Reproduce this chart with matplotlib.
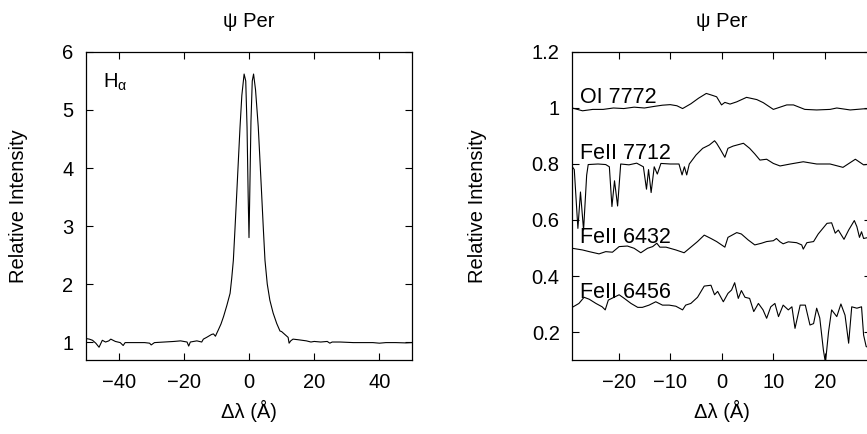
import matplotlib
matplotlib.use("Agg")
import matplotlib.pyplot as plt
import numpy as np

plt.rcParams['font.family'] = ['Liberation Sans', 'DejaVu Sans']
plt.rcParams['mathtext.fontset'] = 'custom'
plt.rcParams['mathtext.rm'] = 'Liberation Sans'
plt.rcParams['mathtext.it'] = 'Liberation Sans:italic'

# H-alpha profile (left panel)
ha_x = [-50, -49, -48, -47, -46, -45, -44, -43, -42.4, -41, -39.5, -38.6, -38, -35, -32,
        -30.5, -30, -29, -26, -23, -21, -19, -18.5, -18, -16, -14.5, -14, -13, -11.5,
        -10.9, -10.3, -9.9, -9.4, -8.6, -7.8, -6.8, -5.8, -5.3, -4.8, -4.3, -3.76, -3.2,
        -2.75, -2.2, -1.5, -1.0, -0.6, -0.25, 0.0, 0.25, 0.6, 1.0, 1.4, 2.0, 2.84, 3.3,
        3.87, 4.4, 4.9, 5.6, 6.4, 7.4, 8.5, 9.5, 10.0, 11.0, 12.0, 12.3, 12.8, 13.5, 15,
        17.6, 19, 20, 22, 24, 24.8, 25.5, 28, 32, 35, 38, 40, 42, 45, 48, 50]
ha_y = [1.06, 1.05, 1.03, 0.98, 0.91, 1.03, 1.0, 1.02, 1.05, 1.01, 0.99, 0.94, 0.99, 0.99, 0.99,
        0.98, 0.95, 0.99, 1.0, 1.01, 1.02, 1.0, 0.93, 1.0, 1.02, 1.0, 1.05, 1.08, 1.13,
        1.14, 1.10, 1.15, 1.21, 1.31, 1.44, 1.63, 1.84, 2.1, 2.41, 2.95, 3.56, 4.2,
        4.71, 5.25, 5.62, 5.5, 4.7, 3.5, 2.8, 3.6, 4.8, 5.5, 5.62, 5.35, 4.71, 4.2,
        3.56, 2.95, 2.41, 2.0, 1.72, 1.5, 1.32, 1.19, 1.18, 1.13, 1.08, 0.98, 1.02, 1.05, 1.04,
        1.02, 1.0, 1.01, 1.0, 1.01, 0.98, 1.0, 1.0, 0.99, 0.99, 0.99, 0.98, 0.99, 0.99, 0.985, 0.99]

# OI 7772
oi_x = [-29, -27, -25, -23, -21, -19, -17, -15, -13, -11.5, -10, -8.7, -7.6, -6, -4.5, -3,
        -1.8, -1.0, -0.05, 0.6, 1.6, 2.9, 4.8, 6.8, 8.05, 10.0, 12.6, 13.9, 16.1, 18.4,
        21.0, 22.3, 24.9, 27.5, 29]
oi_y = [1.0, 0.99, 0.995, 0.995, 1.0, 0.998, 1.003, 1.0, 1.006, 1.01, 1.012, 1.008, 0.998,
        1.015, 1.035, 1.052, 1.045, 1.04, 1.011, 1.02, 1.014, 1.022, 1.038, 1.03, 1.019,
        0.995, 1.011, 1.011, 0.995, 0.993, 0.995, 1.0, 0.993, 0.997, 0.997]

# FeII 7712
fe7712_x = [-29.2, -28.6, -27.9, -27.4, -26.8, -26.2, -25.9, -24, -22.5, -21.8, -21.3, -20.8,
            -20.2, -19.6, -18, -16.5, -15.2, -14.6, -14.2, -13.7, -13.1, -12.5, -11.8, -10,
            -8.3, -7.7, -7.25, -6.8, -6.3, -5.0, -3.7, -2.4, -1.4, -1.0, -0.4, 0.6, 1.2,
            2.2, 4.2, 5.4, 6.4, 7.4, 8.7, 10.0, 11.3, 13.3, 15.8, 18.4, 21.0, 23.5, 25.9,
            27.5, 29]
fe7712_y = [0.796, 0.78, 0.57, 0.70, 0.564, 0.76, 0.798, 0.80, 0.798, 0.79, 0.648, 0.74,
            0.65, 0.80, 0.797, 0.803, 0.79, 0.71, 0.78, 0.698, 0.79, 0.764, 0.802, 0.80,
            0.80, 0.761, 0.79, 0.761, 0.80, 0.832, 0.856, 0.868, 0.883, 0.874, 0.856, 0.824,
            0.856, 0.864, 0.874, 0.856, 0.836, 0.814, 0.817, 0.802, 0.793, 0.80, 0.808, 0.80,
            0.80, 0.788, 0.817, 0.797, 0.80]

# FeII 6432
fe6432_x = [-29.0, -27.0, -25.7, -23.8, -22.5, -21.2, -19.9, -18.3, -17.0, -15.7, -14.4,
            -13.4, -12.6, -12.0, -10.8, -8.9, -7.3, -6.0, -4.7, -3.4, -2.1, -1.0, 0.6, 1.2,
            2.9, 3.8, 5.1, 6.4, 7.7, 8.7, 10.0, 10.6, 11.3, 11.9, 12.9, 14.5, 15.5, 15.8,
            16.5, 17.8, 18.7, 20.4, 21.3, 22.0, 22.6, 23.7, 24.6, 25.7, 26.2, 26.7, 27.1,
            27.5, 29]
fe6432_y = [0.499, 0.493, 0.487, 0.479, 0.487, 0.485, 0.505, 0.507, 0.499, 0.483, 0.499,
            0.505, 0.517, 0.503, 0.503, 0.493, 0.483, 0.503, 0.523, 0.546, 0.534, 0.523,
            0.503, 0.538, 0.555, 0.550, 0.529, 0.511, 0.517, 0.523, 0.526, 0.534, 0.522,
            0.515, 0.522, 0.519, 0.511, 0.496, 0.519, 0.523, 0.55, 0.588, 0.59, 0.553,
            0.564, 0.531, 0.564, 0.598, 0.576, 0.538, 0.558, 0.534, 0.54]

# FeII 6456
fe6456_x = [-29.0, -27.7, -26.7, -25.7, -24.4, -23.2, -22.6, -22.0, -20.9, -19.9, -18.9,
            -17.6, -16.3, -15.4, -14.1, -12.8, -11.5, -10.2, -8.9, -7.6, -7.0, -6.0, -4.7,
            -3.4, -2.1, -1.4, -0.8, 0.3, 1.2, 1.9, 2.5, 3.2, 3.8, 4.5, 5.4, 6.2, 7.1, 8.0,
            8.7, 9.5, 10.3, 11.0, 11.9, 12.9, 13.6, 14.2, 15.2, 16.2, 17.1, 17.8, 18.4,
            19.0, 19.7, 20.1, 20.7, 21.3, 22.3, 23.1, 23.9, 24.6, 25.2, 26.2, 27.1, 27.5,
            28.0, 29]
fe6456_y = [0.288, 0.302, 0.324, 0.317, 0.302, 0.29, 0.279, 0.314, 0.324, 0.333, 0.32,
            0.302, 0.288, 0.288, 0.296, 0.308, 0.296, 0.296, 0.292, 0.279, 0.296, 0.302,
            0.324, 0.364, 0.367, 0.333, 0.345, 0.308, 0.338, 0.35, 0.376, 0.32, 0.348,
            0.324, 0.32, 0.273, 0.302, 0.279, 0.249, 0.29, 0.302, 0.255, 0.296, 0.279,
            0.29, 0.213, 0.296, 0.296, 0.225, 0.23, 0.285, 0.25, 0.136, 0.09, 0.2, 0.279,
            0.255, 0.3, 0.26, 0.16, 0.29, 0.285, 0.29, 0.189, 0.148, 0.14]

right_series = [(oi_x, oi_y, 'OI 7772', 1.018),
                (fe7712_x, fe7712_y, 'FeII 7712', 0.818),
                (fe6432_x, fe6432_y, 'FeII 6432', 0.518),
                (fe6456_x, fe6456_y, 'FeII 6456', 0.321)]

fs = 14.5

fig = plt.figure(figsize=(8.67, 4.34), dpi=100)
ax1 = fig.add_axes([0.0992, 0.1705, 0.376, 0.7097])
ax2 = fig.add_axes([0.660, 0.1705, 0.345, 0.7097])

for ax in (ax1, ax2):
    ax.tick_params(direction='in', top=True, right=True, length=5, width=0.8,
                   labelsize=fs, pad=9)
    for s in ax.spines.values():
        s.set_linewidth(0.9)
    ax.set_title('ψ Per', fontsize=fs, pad=18)
    ax.set_xlabel('Δλ (Å)', fontsize=fs)
    ax.set_ylabel('Relative Intensity', fontsize=fs)
    ax.xaxis.set_label_coords(0.5, -0.13)

# left panel
ax1.plot(ha_x, ha_y, color='black', lw=0.8)
ax1.set_xlim(-50, 50)
ax1.set_ylim(0.69, 6)
ax1.set_xticks([-40, -20, 0, 20, 40])
ax1.set_yticks([1, 2, 3, 4, 5, 6])
ax1.text(-44.9, 5.39, r'H$_{\mathrm{\alpha}}$', fontsize=14.5, va='baseline', ha='left')
ax1.yaxis.set_label_coords(-0.177, 0.5)

# right panel
for xs, ys, name, ty in right_series:
    ax2.plot(xs, ys, color='black', lw=0.8)
    ax2.text(-27.5, ty, name, fontsize=15.5, va='baseline', ha='left')
ax2.set_xlim(-29, 29)
ax2.set_ylim(0.1, 1.2)
ax2.set_xticks([-20, -10, 0, 10, 20])
ax2.set_yticks([0.2, 0.4, 0.6, 0.8, 1.0, 1.2])
ax2.set_yticklabels(['0.2', '0.4', '0.6', '0.8', '1', '1.2'])
ax2.yaxis.set_label_coords(-0.284, 0.5)

fig.savefig('out.png', dpi=100)
